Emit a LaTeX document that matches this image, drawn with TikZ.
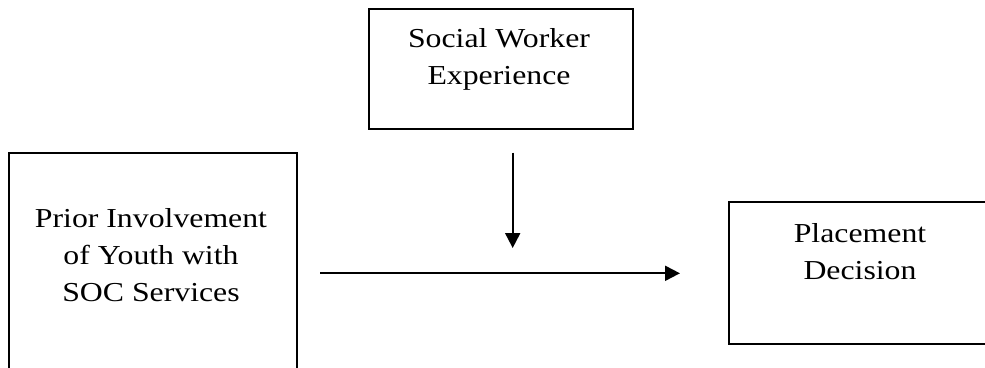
\documentclass[tikz,border=0pt]{standalone}
\usepackage{fontspec}
\setmainfont[FakeStretch=1.16]{Liberation Serif}
\usetikzlibrary{arrows.meta}
\begin{document}
\begin{tikzpicture}[x=1pt,y=-1pt,
  boxnode/.style={draw=black,line width=1.8pt,rectangle,inner sep=0pt},
  lbl/.style={align=center,inner sep=0pt,font=\fontsize{27.4}{37}\selectfont,anchor=north},
  conn/.style={line width=2pt,-{Triangle[length=15pt,width=15pt]}}]
\useasboundingbox (0,0) rectangle (985,367);
\clip (0,0) rectangle (985,367);
\node[boxnode,minimum width=263.7pt,minimum height=120pt] (sw) at (501,69.3) {};
\node[boxnode,minimum width=288pt,minimum height=266.7pt] (prior) at (152.7,286.7) {};
\node[boxnode,minimum width=262pt,minimum height=142.3pt] (place) at (860,272.85) {};
\node[lbl] (swt) at (499,28) {Social Worker\\Experience};
\node[lbl] (priort) at (151,208) {Prior Involvement\\of Youth with\\SOC Services};
\node[lbl] (placet) at (860,223) {Placement\\Decision};
\coordinate (vs) at (512.7,152.7);
\coordinate (ve) at (512.7,248);
\coordinate (hs) at (320,273.3);
\coordinate (he) at (680,273.3);
\draw[conn] (vs) -- (ve);
\draw[conn] (hs) -- (he);
\end{tikzpicture}
\end{document}
